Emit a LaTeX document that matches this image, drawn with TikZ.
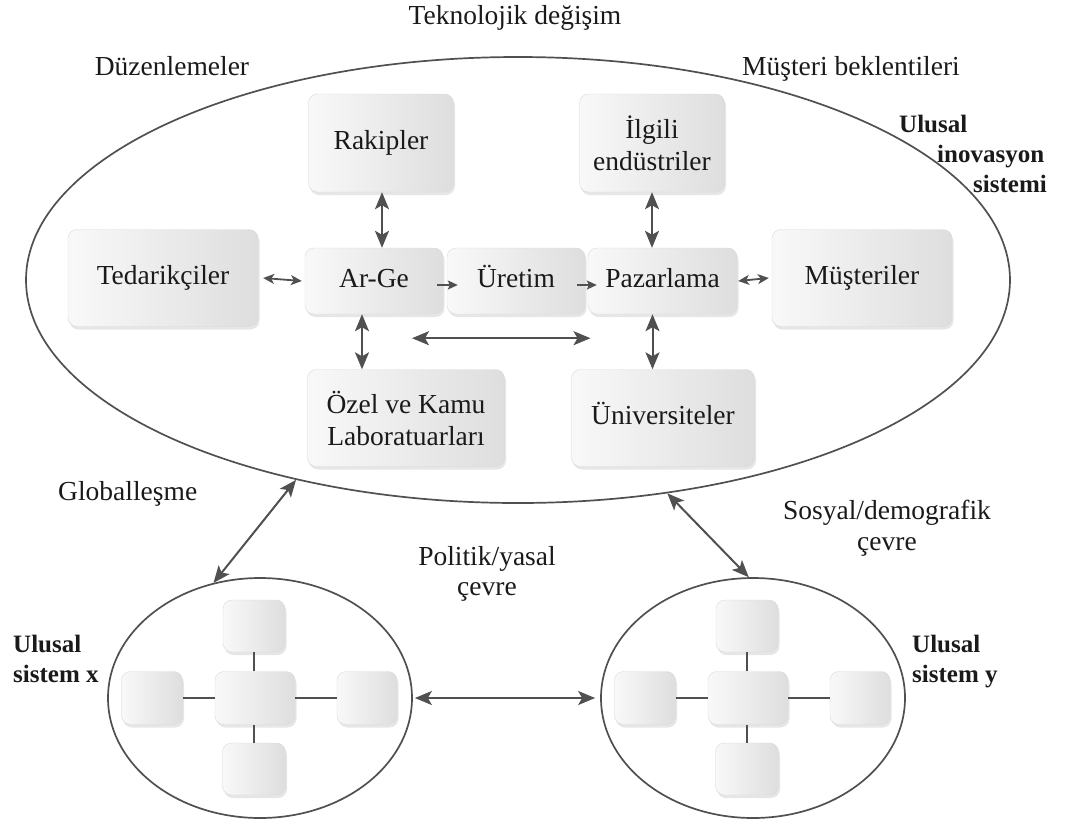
\documentclass[tikz,border=0pt]{standalone}
\usepackage{fontspec}
\setmainfont{Liberation Serif}
\usetikzlibrary{shapes.geometric,arrows.meta,shadows}
\definecolor{ln}{HTML}{505050}
\definecolor{tx}{HTML}{1A1A1A}
\begin{document}
\begin{tikzpicture}[x=1pt,y=-1pt,
  box/.style={rounded corners=9pt, draw=gray!30, line width=0.4pt,
    left color=gray!5, right color=gray!26,
    drop shadow={shadow xshift=1.5pt, shadow yshift=-3pt, opacity=0.22, fill=gray!90},
    align=center, font=\fontsize{27.5}{32}\selectfont, text=tx, inner sep=0pt},
  one/.style={text height=19pt, text depth=6pt},
  sbox/.style={box},
  lab/.style={font=\fontsize{27.5}{32}\selectfont, text=tx, inner sep=0pt, align=center},
  blab/.style={font=\bfseries\fontsize{25}{30}\selectfont, text=tx, inner sep=0pt},
  ell/.style={ellipse, draw=ln, line width=1.7pt, inner sep=0pt},
  dbl/.style={{Stealth[length=17pt,width=14pt,inset=4pt]}-{Stealth[length=17pt,width=14pt,inset=4pt]}, draw=ln, line width=2pt},
  dbls/.style={{Stealth[length=11pt,width=10pt,inset=3pt]}-{Stealth[length=11pt,width=10pt,inset=3pt]}, draw=ln, line width=1.8pt},
  sgl/.style={-{Stealth[length=10pt,width=9pt,inset=2pt]}, draw=ln, line width=1.6pt},
  link/.style={draw=ln, line width=2pt}
]
\useasboundingbox (0,0) rectangle (1066,823);

% ---------- main ellipse ----------
\node[ell, minimum width=984pt, minimum height=446pt] (big) at (518,280) {};

% ---------- boxes ----------
\node[box, one, minimum width=145pt, minimum height=98pt] (rak) at (381,143) {Rakipler};
\node[box, minimum width=145pt, minimum height=98pt] (ilg) at (652,143) {İlgili\\endüstriler};
\node[box, one, minimum width=190pt, minimum height=97pt] (ted) at (163,278) {Tedarikçiler};
\node[box, one, minimum width=180pt, minimum height=97pt] (mus) at (862,278) {Müşteriler};
\node[box, one, minimum width=138pt, minimum height=66pt] (arge) at (374,281) {Ar-Ge};
\node[box, one, minimum width=138pt, minimum height=66pt] (uret) at (516,281) {Üretim};
\node[box, one, minimum width=149pt, minimum height=66pt] (paz) at (662.5,281) {Pazarlama};
\node[box, minimum width=197pt, minimum height=97pt] (ozel) at (406,418) {Özel ve Kamu\\Laboratuarları};
\node[box, one, minimum width=183pt, minimum height=97pt] (uni) at (663,418) {Üniversiteler};

% ---------- arrows inside ----------
\draw[dbl] ([xshift=1pt]rak.south) -- ([xshift=1pt]rak.south |- arge.north);
\draw[dbl] (ilg.south) -- (ilg.south |- paz.north);
\draw[dbls] ([xshift=5pt]ted.east) -- ([xshift=-3pt]arge.west);
\draw[dbls] ([xshift=1pt]paz.east) -- ([xshift=-3pt]mus.west);
\draw[sgl] ([xshift=-6pt,yshift=-4pt]arge.east) -- ([xshift=11pt,yshift=-4pt]uret.west);
\draw[sgl] ([xshift=-8pt,yshift=-4pt]uret.east) -- ([xshift=9pt,yshift=-4pt]paz.west);
\draw[dbl] ([xshift=-12pt]arge.south) -- ([xshift=-12pt]arge.south |- ozel.north);
\draw[dbl] ([xshift=-10pt]paz.south) -- ([xshift=-10pt]paz.south |- uni.north);
\draw[dbl] ([xshift=38pt,yshift=-24pt]arge.south) -- ([xshift=-72pt,yshift=-24pt]paz.south);

% ---------- small ellipses ----------
\node[ell, minimum width=304pt, minimum height=240pt] (sx) at (260,698) {};
\node[ell, minimum width=304pt, minimum height=240pt] (sy) at (753,698) {};

\node[sbox, minimum width=80pt, minimum height=53pt] (xc) at (255,698) {};
\node[sbox, minimum width=62pt, minimum height=52pt] (xt) at (254,626) {};
\node[sbox, minimum width=63pt, minimum height=52pt] (xb) at (254,769) {};
\node[sbox, minimum width=61pt, minimum height=53pt] (xl) at (152,698) {};
\node[sbox, minimum width=60pt, minimum height=53pt] (xr) at (367,698) {};
\draw[link] (xc.north -| xt.south) -- (xt.south);
\draw[link] (xc.south -| xb.north) -- (xb.north);
\draw[link] (xc.west) -- (xl.east);
\draw[link] (xc.east) -- (xr.west);

\node[sbox, minimum width=80pt, minimum height=53pt] (yc) at (748,698) {};
\node[sbox, minimum width=62pt, minimum height=52pt] (yt) at (747,626) {};
\node[sbox, minimum width=63pt, minimum height=52pt] (yb) at (747,769) {};
\node[sbox, minimum width=61pt, minimum height=53pt] (yl) at (645,698) {};
\node[sbox, minimum width=60pt, minimum height=53pt] (yr) at (860,698) {};
\draw[link] (yc.north -| yt.south) -- (yt.south);
\draw[link] (yc.south -| yb.north) -- (yb.north);
\draw[link] (yc.west) -- (yl.east);
\draw[link] (yc.east) -- (yr.west);

% ---------- arrows between systems ----------
\draw[dbl] (big.222) -- (sx.112);
\draw[dbl] (big.305) -- (sy.92);
\draw[dbl] ([xshift=2pt]sx.east) -- ([xshift=-5pt]sy.west);

% ---------- labels ----------
\node[lab, anchor=base] (tek) at (515,24) {Teknolojik değişim};
\node[lab, anchor=base] (duz) at (172,75) {Düzenlemeler};
\node[lab, anchor=base] (mbk) at (851,75) {Müşteri beklentileri};
\node[blab, anchor=base west] (uis1) at (899,132) {Ulusal};
\node[blab, anchor=base west] (uis2) at (937,162) {inovasyon};
\node[blab, anchor=base west] (uis3) at (973,192) {sistemi};
\node[lab, anchor=base west] (glb) at (58,500) {Globalleşme};
\node[lab, anchor=base] (pol1) at (487,565) {Politik/yasal};
\node[lab, anchor=base] (pol2) at (487,595) {çevre};
\node[lab, anchor=base] (sos1) at (887,519) {Sosyal/demografik};
\node[lab, anchor=base] (sos2) at (887,550) {çevre};
\node[blab, anchor=base west] (usx1) at (13,652) {Ulusal};
\node[blab, anchor=base west] (usx2) at (13,682) {sistem x};
\node[blab, anchor=base west] (usy1) at (912,652) {Ulusal};
\node[blab, anchor=base west] (usy2) at (912,682) {sistem y};
\end{tikzpicture}
\end{document}
